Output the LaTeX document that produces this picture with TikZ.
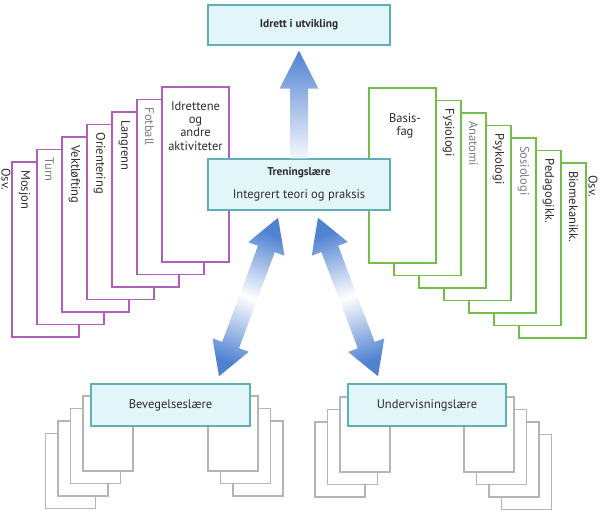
\documentclass[tikz,border=0pt]{standalone}
\usepackage{fontspec}
\setmainfont{PT Sans}
\usetikzlibrary{calc}

\definecolor{boxfill}{RGB}{226,245,249}
\definecolor{boxline}{RGB}{95,175,185}
\definecolor{sportline}{RGB}{175,95,185}
\definecolor{fagline}{RGB}{115,190,75}
\definecolor{sheetline}{RGB}{180,180,180}
\definecolor{arrowblue}{RGB}{80,130,210}
\definecolor{textdark}{RGB}{45,45,45}
\definecolor{textpale}{RGB}{125,125,125}

\tikzset{
  mainbox/.style={draw=boxline, fill=boxfill, line width=1.1pt, text=textdark, inner sep=2pt},
  card/.style={fill=white, line width=1pt},
  sheet/.style={draw=sheetline, fill=white, line width=0.9pt},
  cardlabel/.style={rotate=-90, anchor=west, inner sep=0pt},
  boldtext/.style={font=\fontsize{8.5}{10}\selectfont\bfseries},
}

% fat arrow with a head at both ends: #1 and #2 are the tips, #3 the shading angle
\newcommand{\twoway}[3]{%
  \shade[top color=arrowblue, bottom color=arrowblue, middle color=white, shading angle=#3]
    (#2) -- ($(#2)!25pt!(#1)!14.5pt!90:(#1)$) -- ($(#2)!25pt!(#1)!6.75pt!90:(#1)$)
    -- ($(#1)!25pt!(#2)!6.75pt!-90:(#2)$) -- ($(#1)!25pt!(#2)!14.5pt!-90:(#2)$)
    -- (#1) -- ($(#1)!25pt!(#2)!14.5pt!90:(#2)$) -- ($(#1)!25pt!(#2)!6.75pt!90:(#2)$)
    -- ($(#2)!25pt!(#1)!6.75pt!-90:(#1)$) -- ($(#2)!25pt!(#1)!14.5pt!-90:(#1)$) -- cycle;
}

\begin{document}
\begin{tikzpicture}[x=0.75pt, y=-0.75pt, every node/.style={font=\fontsize{9.4}{10}\selectfont, text=textdark}]
	\useasboundingbox (0,0) rectangle (600,515);

	% sports, left
	\foreach \i/\name/\col in {6/Mosjon/textdark, 5/Turn/textpale, 4/Vektløfting/textdark, 3/Orientering/textdark, 2/Langrenn/textdark, 1/Fotball/textpale}{
		\draw[card, draw=sportline] (162-25*\i, 87+12.5*\i) rectangle ++(67,175);
		\node[cardlabel, text=\col] (sport\i) at (174.5-25*\i, 95+12.5*\i) {\name};
	}
	\draw[card, draw=sportline] (162,87) rectangle ++(67,175);
	\node[align=center] (sport0) at (195.5,126) {Idrettene\\og\\andre\\aktiviteter};
	\node[rotate=-90, inner sep=0pt] (osvl) at (6,179) {Osv.};

	% basic subjects, right
	\foreach \i/\name/\col in {6/Biomekanikk./textdark, 5/Pedagogikk./textdark, 4/Sosiologi/textpale, 3/Psykologi/textdark, 2/Anatomi/textpale, 1/Fysiologi/textdark}{
		\draw[card, draw=fagline] (369+25*\i, 88+12.5*\i) rectangle ++(67,175);
		\node[cardlabel, text=\col] (fag\i) at (423.5+25*\i, 96+12.5*\i) {\name};
	}
	\draw[card, draw=fagline] (369,88) rectangle ++(67,175);
	\node[align=center] (fag0) at (405,126) {Basis-\\fag};
	\node[rotate=-90, inner sep=0pt] (osvr) at (593,186) {Osv.};

	% paper stacks, bottom
	\foreach \i in {3,2,1,0} \draw[sheet] (83-12.5*\i, 396+12.5*\i) rectangle ++(50,75);
	\foreach \i in {2,1,0} \draw[sheet] (208+12.5*\i, 396+12.5*\i) rectangle ++(50,75);
	\foreach \i in {2,1,0} \draw[sheet] (340-12.5*\i, 397+12.5*\i) rectangle ++(50,75);
	\foreach \i in {3,2,1,0} \draw[sheet] (464+12.5*\i, 397+12.5*\i) rectangle ++(50,75);

	% main boxes
	\node[mainbox, boldtext, minimum width=136.5pt, minimum height=30pt] (idrett) at (299,25) {Idrett i utvikling};
	\node[mainbox, minimum width=136.5pt, minimum height=38.25pt, align=center] (tren) at (299,184.5) {{\fontsize{8.5}{10}\selectfont\bfseries Treningslære}\\[7pt]Integrert teori og praksis};
	\node[mainbox, minimum width=119.25pt, minimum height=31.5pt] (bev) at (170.5,405) {Bevegelseslære};
	\node[mainbox, minimum width=118.5pt, minimum height=31.5pt] (und) at (427,405) {Undervisningslære};

	% arrows
	\coordinate (upfoot) at (tren.north);
	\coordinate (uptip) at ($(idrett.south)+(0,5)$);
	\shade[top color=arrowblue, bottom color=arrowblue!6]
		($(upfoot)+(-9,0)$) -- ($(uptip)+(-9,38)$) -- ($(uptip)+(-19.5,38)$) -- (uptip)
		-- ($(uptip)+(19.5,38)$) -- ($(uptip)+(9,38)$) -- ($(upfoot)+(9,0)$) -- cycle;

	\coordinate (ltop) at ($(tren.south)+(-21,7)$);
	\coordinate (lbot) at ($(bev.north)+(48.5,-7)$);
	\twoway{ltop}{lbot}{-20}

	\coordinate (rtop) at ($(tren.south)+(19,7)$);
	\coordinate (rbot) at ($(und.north)+(-49,-7)$);
	\twoway{rtop}{rbot}{20}
\end{tikzpicture}
\end{document}
